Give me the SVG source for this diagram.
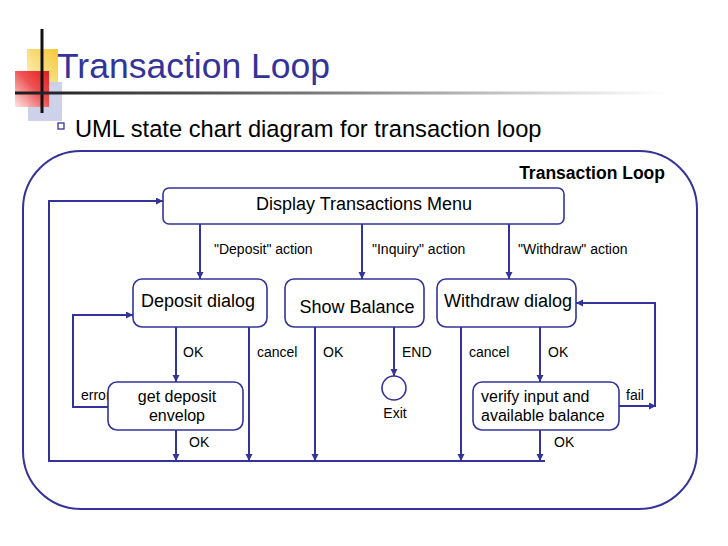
<svg xmlns="http://www.w3.org/2000/svg" width="728" height="546" viewBox="0 0 728 546">
<defs>
<marker id="ah" markerUnits="userSpaceOnUse" markerWidth="8" markerHeight="8" refX="7" refY="3.5" orient="auto">
<path d="M0,0 L7,3.5 L0,7 z" fill="#333399"/>
</marker>
<linearGradient id="rule" x1="0" y1="0" x2="1" y2="0">
<stop offset="0" stop-color="#1a1a1a"/>
<stop offset="0.45" stop-color="#777"/>
<stop offset="0.85" stop-color="#ddd"/>
<stop offset="1" stop-color="#fff"/>
</linearGradient>
<linearGradient id="red" x1="1" y1="0" x2="0" y2="1">
<stop offset="0" stop-color="#e3121a"/>
<stop offset="0.45" stop-color="#ee4a4a"/>
<stop offset="1" stop-color="#fde4e4"/>
</linearGradient>
<linearGradient id="yel" x1="1" y1="0" x2="0" y2="1">
<stop offset="0" stop-color="#f6c832"/>
<stop offset="1" stop-color="#fdf3c8"/>
</linearGradient>
</defs>
<style>
.ln{fill:none;stroke:#333399;stroke-width:2}
.ar{marker-end:url(#ah)}
.nd{fill:#fff;stroke:#333399;stroke-width:1.6}
.nt{font-family:"Liberation Sans",Arial,sans-serif;font-size:18px;fill:#000;text-anchor:middle}
.st{font-family:"Liberation Sans",Arial,sans-serif;font-size:16px;fill:#000}
.lb{font-family:"Liberation Sans",Arial,sans-serif;font-size:14px;fill:#000}
</style>
<rect width="728" height="546" fill="#fff"/>
<g id="decoration">
<rect x="27" y="49" width="31" height="36" fill="url(#yel)"/>
<rect x="28" y="82" width="34" height="39" fill="#c9cce8" opacity="0.9"/>
<rect x="15" y="71" width="34" height="36" fill="url(#red)" opacity="0.95"/>
<line x1="42" y1="29" x2="42" y2="113" stroke="#111" stroke-width="3"/>
<rect x="15" y="91.5" width="650" height="3" fill="url(#rule)"/>
</g>
<text x="57" y="78" font-family="'Liberation Sans',Arial,sans-serif" font-size="35.5" fill="#333399">Transaction Loop</text>
<rect x="58" y="123" width="6" height="6" fill="#fff" stroke="#333399" stroke-width="1.3"/>
<text x="75" y="137" font-family="'Liberation Sans',Arial,sans-serif" font-size="23.7" fill="#000">UML state chart diagram for transaction loop</text>
<g id="transaction-loop">
<rect x="23" y="151" width="674" height="358" rx="58" ry="58" fill="none" stroke="#333399" stroke-width="2"/>
<text x="665" y="179" text-anchor="end" font-family="'Liberation Sans',Arial,sans-serif" font-size="17.5" font-weight="bold" fill="#000">Transaction Loop</text>
</g>
<g id="connectors">
<path class="ln" d="M545,461 H49 V201 H162"/>
<path class="ln ar" d="M49,201 H163"/>
<path class="ln ar" d="M200,224 V279"/>
<path class="ln ar" d="M362,224 V279"/>
<path class="ln ar" d="M509,224 V279"/>
<path class="ln ar" d="M176,327 V382"/>
<path class="ln ar" d="M249,327 V461"/>
<path class="ln ar" d="M315,327 V461"/>
<path class="ln ar" d="M394,327 V376"/>
<path class="ln ar" d="M461,327 V461"/>
<path class="ln ar" d="M540,327 V382"/>
<path class="ln ar" d="M176,430 V461"/>
<path class="ln ar" d="M540,430 V461"/>
<path class="ln ar" d="M108,407 H73 V315 H133"/>
<path class="ln ar" d="M619,406 H656"/>
<path class="ln ar" d="M655,406 V303 H576"/>
<text class="lb" x="214" y="254">"Deposit" action</text>
<text class="lb" x="372" y="254">"Inquiry" action</text>
<text class="lb" x="518" y="254">"Withdraw" action</text>
<text class="lb" x="183" y="357">OK</text>
<text class="lb" x="257" y="357">cancel</text>
<text class="lb" x="323" y="357">OK</text>
<text class="lb" x="402" y="357">END</text>
<text class="lb" x="469" y="357">cancel</text>
<text class="lb" x="548" y="357">OK</text>
<text class="lb" x="81" y="400" font-size="13">error</text>
<text class="lb" x="626" y="400" font-size="13">fail</text>
<text class="lb" x="189" y="447">OK</text>
<text class="lb" x="554" y="447">OK</text>
</g>
<g id="menu">
<rect class="nd" x="163" y="188" width="401" height="36" rx="6"/>
<text class="nt" x="364" y="210">Display Transactions Menu</text>
</g>
<g id="deposit-dialog">
<rect class="nd" x="133" y="279" width="134" height="48" rx="9"/>
<text class="nt" x="198" y="307">Deposit dialog</text>
</g>
<g id="show-balance">
<rect class="nd" x="285" y="279" width="139" height="48" rx="9"/>
<text class="nt" x="357" y="313">Show Balance</text>
</g>
<g id="withdraw-dialog">
<rect class="nd" x="437" y="279" width="139" height="48" rx="9"/>
<text class="nt" x="508" y="307">Withdraw dialog</text>
</g>
<g id="get-deposit">
<rect class="nd" x="108" y="382" width="135" height="48" rx="9"/>
<text class="st" x="177" y="402" text-anchor="middle">get deposit</text>
<text class="st" x="177" y="421" text-anchor="middle">envelop</text>
</g>
<g id="exit">
<circle cx="394" cy="388" r="12" fill="#fff" stroke="#333399" stroke-width="1.6"/>
<text class="lb" x="395" y="418" text-anchor="middle">Exit</text>
</g>
<g id="verify">
<rect class="nd" x="473" y="382" width="146" height="48" rx="9"/>
<text class="st" x="481" y="402">verify input and</text>
<text class="st" x="481" y="421">available balance</text>
</g>
</svg>
